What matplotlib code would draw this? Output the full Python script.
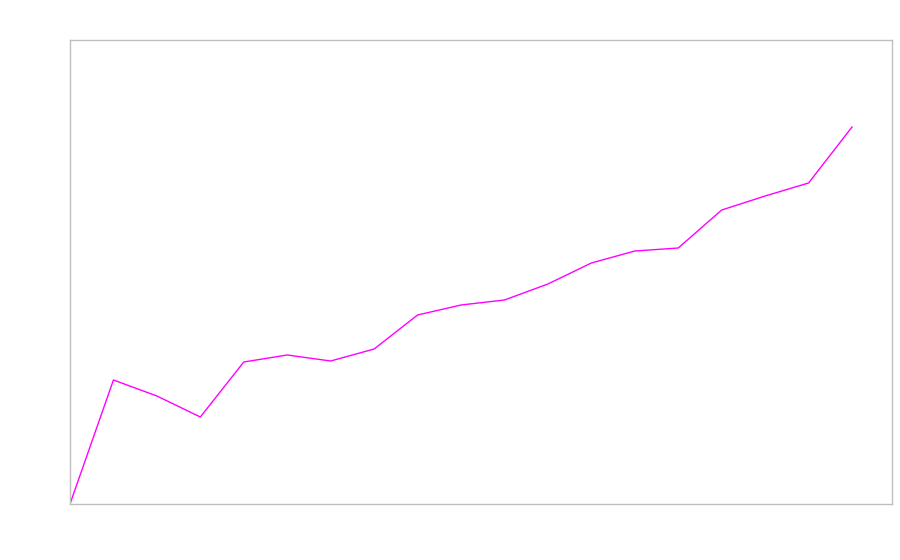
import matplotlib
matplotlib.use('Agg')
import matplotlib.pyplot as plt

# Nilai seri
x_index = list(range(19))
values = [0, 124, 108, 87, 142, 149, 143, 155, 189, 199, 204,
          220, 241, 253, 256, 294, 308, 321, 377]

fig = plt.figure(figsize=(9, 5.6), dpi=100)
ax = fig.add_axes([70 / 900, 56 / 560, 822 / 900, 464 / 560])

ax.plot(x_index, values, color='#ff00ff', linewidth=1)

ax.set_xlim(0, 18.92)
ax.set_ylim(0, 464)
ax.set_xticks([])
ax.set_yticks([])
for s in ax.spines.values():
    s.set_color('#bfbfbf')
    s.set_linewidth(1)

fig.savefig('out.png', dpi=100)
